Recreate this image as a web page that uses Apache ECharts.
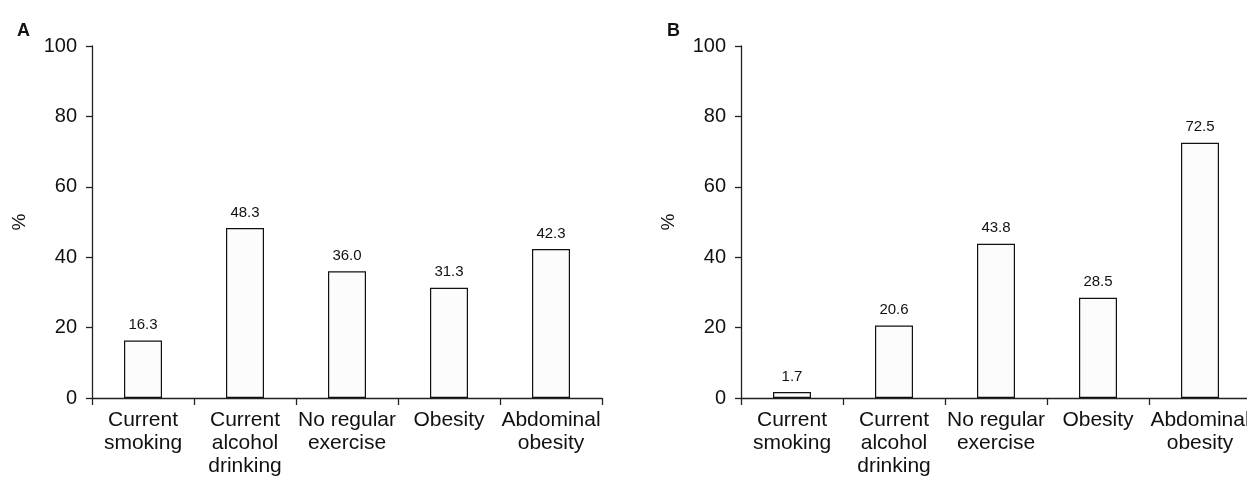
<!DOCTYPE html>
<html>
<head>
<meta charset="utf-8">
<script src="https://cdn.jsdelivr.net/npm/echarts@6/dist/echarts.min.js"></script>
<style>
html,body{margin:0;padding:0;background:#fff;overflow:hidden;width:1247px;height:478px;}
#chart{width:1270px;height:478px;}
</style>
</head>
<body>
<div id="chart"></div>
<script>
const categories = ["Current\nsmoking", "Current\nalcohol\ndrinking", "No regular\nexercise", "Obesity", "Abdominal\nobesity"];
const valuesA = [16.3, 48.3, 36.0, 31.3, 42.3];
const valuesB = [1.7, 20.6, 43.8, 28.5, 72.5];
const yTicks = [0, 20, 40, 60, 80, 100];
const panelLabels = ["A", "B"];

const FONT = '"Liberation Sans", Arial, sans-serif';
const axisColor = '#222';

function xAxis(gi) {
  return {
    type: 'category', gridIndex: gi, data: categories,
    axisLine: {lineStyle: {color: axisColor, width: 1.3}},
    axisTick: {show: true, length: 7, alignWithLabel: false, lineStyle: {color: axisColor, width: 1.3}},
    axisLabel: {interval: 0, color: '#111', fontFamily: FONT, fontSize: 21, lineHeight: 23, margin: 11}
  };
}
function yAxis(gi) {
  return {
    type: 'value', gridIndex: gi, min: yTicks[0], max: yTicks[yTicks.length-1], interval: 20,
    name: '%', nameLocation: 'middle', nameRotate: 90, nameGap: 63,
    nameTextStyle: {color: '#111', fontFamily: FONT, fontSize: 19},
    splitLine: {show: false},
    axisLine: {show: true, lineStyle: {color: axisColor, width: 1.3}},
    axisTick: {show: true, length: 6, lineStyle: {color: axisColor, width: 1.3}},
    axisLabel: {color: '#111', fontFamily: FONT, fontSize: 20, margin: 15}
  };
}
function barSeries(gi, vals) {
  return {
    type: 'bar', xAxisIndex: gi, yAxisIndex: gi, data: vals, barWidth: 38,
    itemStyle: {color: '#fcfcfc', borderColor: '#111', borderWidth: 1.2},
    label: {show: true, position: 'top', distance: 8, color: '#111', fontFamily: FONT, fontSize: 15,
      formatter: p => p.value.toFixed(1)},
    animation: false
  };
}

const chart = echarts.init(document.getElementById('chart'), null, {renderer: 'canvas'});
chart.setOption({
  backgroundColor: '#fff',
  animation: false,
  title: [
    {text: panelLabels[0], left: 12, top: 17, textStyle: {fontFamily: FONT, fontSize: 18, fontWeight: 'bold', color: '#111'}},
    {text: panelLabels[1], left: 662, top: 17, textStyle: {fontFamily: FONT, fontSize: 18, fontWeight: 'bold', color: '#111'}}
  ],
  grid: [
    {left: 92, width: 510, top: 46, bottom: 80, containLabel: false},
    {left: 741, width: 510, top: 46, bottom: 80, containLabel: false}
  ],
  xAxis: [xAxis(0), xAxis(1)],
  yAxis: [yAxis(0), yAxis(1)],
  series: [barSeries(0, valuesA), barSeries(1, valuesB)]
});
</script>
</body>
</html>
